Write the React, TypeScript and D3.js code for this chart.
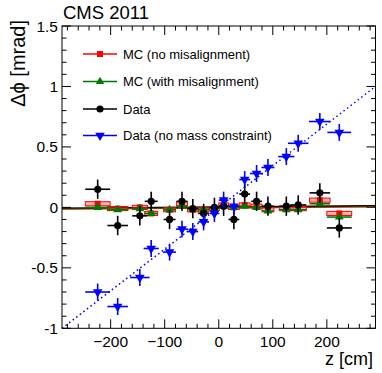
import { useRef, useEffect } from 'react'
import * as d3 from 'd3'

const zCenters = [-224, -187, -146, -125, -91, -68, -48, -28, -8, 9, 28, 48, 70, 91, 125, 147, 187, 223]
const zErr = [23, 19, 14, 12, 11, 10, 10, 10, 9, 9, 10, 10, 10, 11, 13, 15, 19, 23]
const zErrNoMass = [23, 19, 18, 14, 12, 11, 10, 10, 9, 9, 10, 10, 12, 12, 15, 19, 20, 22]

const mcNoMis = [0.03, -0.01, 0.0, -0.05, -0.02, 0.03, -0.02, -0.02, -0.01, 0.02, 0.0, 0.02, 0.01, -0.02, -0.01, -0.01, 0.06, -0.05]
const mcWithMis = [0.0, -0.02, -0.01, -0.05, -0.02, 0.01, -0.01, -0.02, -0.01, 0.01, 0.0, 0.01, 0.0, -0.03, -0.02, -0.02, 0.03, -0.08]
const dataVals = [0.15, -0.15, -0.07, 0.05, -0.1, 0.05, -0.01, -0.05, 0.0, 0.01, -0.1, 0.11, 0.05, 0.01, 0.01, 0.02, 0.12, -0.17]
const noMassVals = [-0.7, -0.82, -0.58, -0.34, -0.37, -0.18, -0.2, -0.12, -0.05, 0.06, 0.01, 0.23, 0.28, 0.33, 0.42, 0.53, 0.71, 0.62]
const mcErr = 0.017
const dataErr = 0.08
const noMassErr = 0.07

// straight-line fits drawn across the frame: [value at left, value at right]
const fitNoMis = [-0.015, 0.005]
const fitWithMis = [-0.01, 0.01]
const fitData = [-0.005, 0.015]
const fitNoMass = [-1.0, 1.0]

const legendLabels = ['MC (no misalignment)', 'MC (with misalignment)', 'Data', 'Data (no mass constraint)']
const colors = ['#ff0000', '#007700', '#000000', '#0000ff']

const xTicks = [-200, -100, 0, 100, 200]
const yTicks = [-1, -0.5, 0, 0.5, 1, 1.5]

const W = 382
const H = 373
const FONT = '"Liberation Sans", Arial, Helvetica, sans-serif'

const App = () => {
  const svgRef = useRef<SVGSVGElement>(null)

  useEffect(() => {
    const svg = d3.select(svgRef.current)
    svg.selectAll('*').remove()

    const x = d3.scaleLinear().domain([-290, 290]).range([62, 375.5])
    const y = d3.scaleLinear().domain([-1, 1.5]).range([328.3, 26])
    const [x0, x1] = x.range()
    const [y0, y1] = y.range()

    // ticks, ROOT style: on all four sides, pointing in
    const tk = svg.append('g').attr('stroke', '#000').attr('stroke-width', 1)
    d3.range(-280, 290, 20).forEach((v) => {
      const len = v % 100 === 0 ? 9 : 4.5
      tk.append('line').attr('x1', x(v)).attr('x2', x(v)).attr('y1', y0).attr('y2', y0 - len)
      tk.append('line').attr('x1', x(v)).attr('x2', x(v)).attr('y1', y1).attr('y2', y1 + len)
    })
    d3.range(-1, 1.51, 0.1).forEach((v) => {
      const major = Math.abs(Math.round(v * 2) - v * 2) < 1e-6
      const len = major ? 9 : 4.5
      tk.append('line').attr('x1', x0).attr('x2', x0 + len).attr('y1', y(v)).attr('y2', y(v))
      tk.append('line').attr('x1', x1).attr('x2', x1 - len).attr('y1', y(v)).attr('y2', y(v))
    })

    // fit lines
    const fits = [fitNoMis, fitWithMis, fitData]
    fits.forEach((f, i) => {
      svg.append('line')
        .attr('x1', x0).attr('x2', x1)
        .attr('y1', y(f[0])).attr('y2', y(f[1]))
        .attr('stroke', colors[i]).attr('stroke-width', 1.2)
    })
    svg.append('line')
      .attr('x1', x0).attr('x2', x1)
      .attr('y1', y(fitNoMass[0])).attr('y2', y(fitNoMass[1]))
      .attr('stroke', colors[3]).attr('stroke-width', 1.5)
      .attr('stroke-dasharray', '1.5,3')

    // MC no misalignment: boxes + squares
    const gRed = svg.append('g')
    zCenters.forEach((z, i) => {
      gRed.append('rect')
        .attr('x', x(z - zErr[i])).attr('width', x(z + zErr[i]) - x(z - zErr[i]))
        .attr('y', y(mcNoMis[i] + mcErr)).attr('height', y(mcNoMis[i] - mcErr) - y(mcNoMis[i] + mcErr))
        .attr('fill', 'rgba(255,80,80,0.45)').attr('stroke', colors[0]).attr('stroke-width', 1)
    })
    gRed.selectAll('path')
      .data(zCenters)
      .join('path')
      .attr('d', d3.symbol(d3.symbolSquare, 36)())
      .attr('transform', (d, i) => `translate(${x(d)},${y(mcNoMis[i])})`)
      .attr('fill', colors[0])

    // generic error-bar series
    const drawSeries = (vals: number[], xe: number[], ye: number, color: string, symbol: (g: any) => void) => {
      const g = svg.append('g').attr('stroke', color).attr('stroke-width', 1.6)
      zCenters.forEach((z, i) => {
        g.append('line').attr('x1', x(z - xe[i])).attr('x2', x(z + xe[i])).attr('y1', y(vals[i])).attr('y2', y(vals[i]))
        g.append('line').attr('x1', x(z)).attr('x2', x(z)).attr('y1', y(vals[i] - ye)).attr('y2', y(vals[i] + ye))
      })
      const m = svg.append('g')
      zCenters.forEach((z, i) => {
        const p = m.append('g').attr('transform', `translate(${x(z)},${y(vals[i])})`)
        symbol(p)
      })
    }

    drawSeries(mcWithMis, zErr, mcErr, colors[1], (p) =>
      p.append('path').attr('d', d3.symbol(d3.symbolTriangle, 34)()).attr('fill', colors[1]))
    drawSeries(dataVals, zErr, dataErr, colors[2], (p) =>
      p.append('circle').attr('r', 3.6).attr('fill', colors[2]))
    drawSeries(noMassVals, zErrNoMass, noMassErr, colors[3], (p) =>
      p.append('path').attr('d', d3.symbol(d3.symbolTriangle, 40)()).attr('transform', 'rotate(180)').attr('fill', colors[3]))

    // frame
    svg.append('rect')
      .attr('x', x0).attr('y', y1).attr('width', x1 - x0).attr('height', y0 - y1)
      .attr('fill', 'none').attr('stroke', '#000').attr('stroke-width', 1)

    // tick labels
    svg.append('g')
      .selectAll('text')
      .data(xTicks)
      .join('text')
      .attr('x', (d) => x(d))
      .attr('y', 347)
      .attr('text-anchor', 'middle')
      .style('font-family', FONT)
      .style('font-size', '15.5px')
      .text((d) => (d < 0 ? '\u2212' + -d : String(d)))
    svg.append('g')
      .selectAll('text')
      .data(yTicks)
      .join('text')
      .attr('x', 58)
      .attr('y', (d) => y(d) + 5.5)
      .attr('text-anchor', 'end')
      .style('font-family', FONT)
      .style('font-size', '15.5px')
      .text((d) => (d < 0 ? '-' + -d : String(d)))

    // axis titles
    svg.append('text')
      .attr('x', 373).attr('y', 365)
      .attr('text-anchor', 'end')
      .style('font-family', FONT).style('font-size', '18px')
      .text('z [cm]')
    svg.append('text')
      .attr('transform', 'translate(25,20) rotate(-90)')
      .attr('text-anchor', 'end')
      .style('font-family', FONT).style('font-size', '20px')
      .text('\u0394\u03d5 [mrad]')
    svg.append('text')
      .attr('x', 63).attr('y', 18.5)
      .style('font-family', FONT).style('font-size', '18.5px')
      .text('CMS 2011')

    // legend
    const legY = [54, 81.5, 109, 135.5]
    legendLabels.forEach((label, i) => {
      const g = svg.append('g').attr('transform', `translate(0,${legY[i]})`)
      g.append('line').attr('x1', 83).attr('x2', 117).attr('y1', 0).attr('y2', 0)
        .attr('stroke', colors[i]).attr('stroke-width', 1.6)
      if (i === 0) g.append('path').attr('d', d3.symbol(d3.symbolSquare, 36)()).attr('transform', 'translate(100,0)').attr('fill', colors[i])
      if (i === 1) g.append('path').attr('d', d3.symbol(d3.symbolTriangle, 30)()).attr('transform', 'translate(100,0)').attr('fill', colors[i])
      if (i === 2) g.append('circle').attr('cx', 100).attr('r', 3.6).attr('fill', colors[i])
      if (i === 3) g.append('path').attr('d', d3.symbol(d3.symbolTriangle, 40)()).attr('transform', 'translate(100,0) rotate(180)').attr('fill', colors[i])
      g.append('text').attr('x', 123).attr('y', 4.7)
        .style('font-family', FONT).style('font-size', '13px')
        .text(label)
    })
  }, [])

  return (
    <div style={{ position: 'absolute', left: 0, top: 0 }}>
      <svg ref={svgRef} width={W} height={H} style={{ display: 'block', background: '#fff' }}></svg>
    </div>
  )
}

export default App
